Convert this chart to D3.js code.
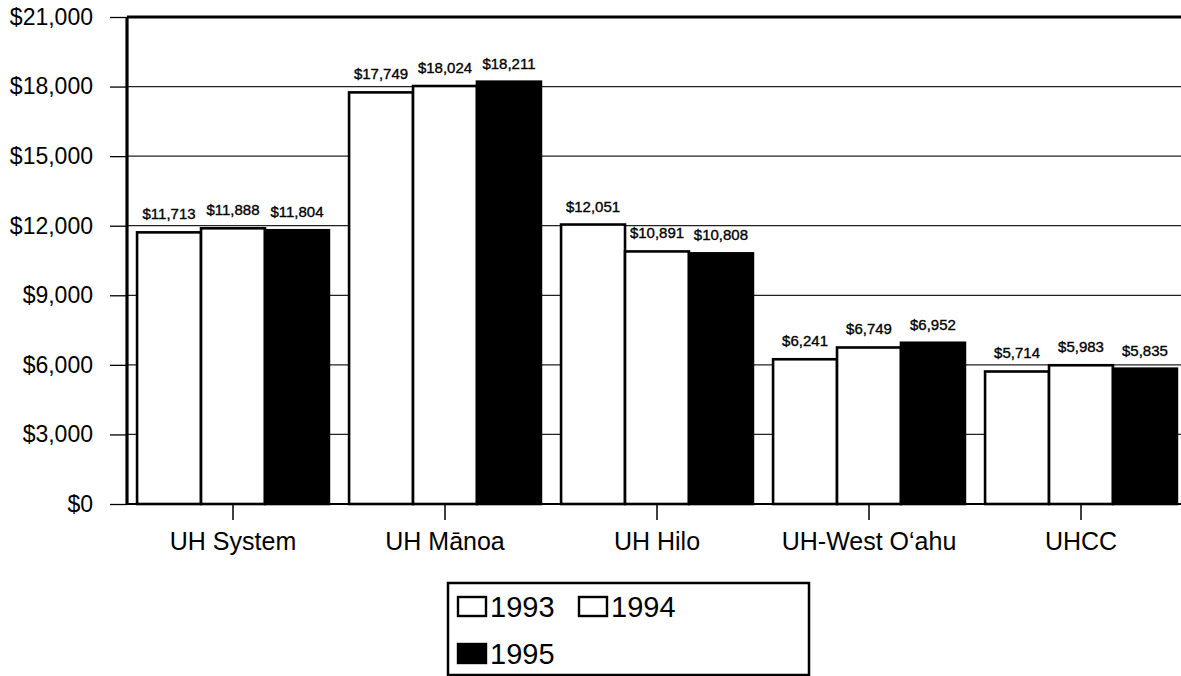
<!DOCTYPE html>
<html>
<head>
<meta charset="utf-8">
<script src="https://cdn.jsdelivr.net/npm/d3@7"></script>
<style>
  html, body { margin: 0; padding: 0; background: #fff; }
  svg { display: block; font-family: "Liberation Sans", Arial, sans-serif; }
</style>
</head>
<body>
<svg id="chart" width="1181" height="676"></svg>
<script>
const categories = ["UH System", "UH M\u0101noa", "UH Hilo", "UH-West O\u2018ahu", "UHCC"];
const years = ["1993", "1994", "1995"];
const values1993 = [11713, 17749, 12051, 6241, 5714];
const values1994 = [11888, 18024, 10891, 6749, 5983];
const values1995 = [11804, 18211, 10808, 6952, 5835];
const yTickValues = [0, 3000, 6000, 9000, 12000, 15000, 18000, 21000];
const seriesFill = ["#ffffff", "#ffffff", "#000000"];

const series = [values1993, values1994, values1995];
const data = categories.map((c, i) => ({
  cat: c,
  vals: years.map((yr, j) => ({ year: yr, value: series[j][i], idx: j }))
}));

const svg = d3.select("#chart");
const mLeft = 127, mTop = 17, mBottom = 504, mRight = 1187;

const x0 = d3.scaleBand().domain(categories).range([mLeft, mRight])
  .paddingInner(0.095).paddingOuter(0.0475);
const x1 = d3.scaleBand().domain(years).range([0, x0.bandwidth()]).padding(0);
const y = d3.scaleLinear().domain([0, 21000]).range([mBottom, mTop]);
const fmt = d => "$" + d3.format(",")(d);

// gridlines
svg.append("g").selectAll("line").data(yTickValues.filter(d => d > 0 && d < 21000)).join("line")
  .attr("x1", mLeft).attr("x2", 1181)
  .attr("y1", d => y(d)).attr("y2", d => y(d))
  .attr("stroke", "#222").attr("stroke-width", 1.3);

// bars
const groups = svg.append("g").selectAll("g").data(data).join("g")
  .attr("transform", d => `translate(${x0(d.cat)},0)`);
groups.selectAll("rect").data(d => d.vals).join("rect")
  .attr("x", d => x1(d.year))
  .attr("y", d => y(d.value))
  .attr("width", x1.bandwidth())
  .attr("height", d => y(0) - y(d.value))
  .attr("fill", d => seriesFill[d.idx])
  .attr("stroke", "#000").attr("stroke-width", 2.6);
groups.selectAll("text").data(d => d.vals).join("text")
  .attr("x", d => x1(d.year) + x1.bandwidth() / 2)
  .attr("y", d => y(d.value) - 13)
  .attr("text-anchor", "middle")
  .attr("font-size", 15)
  .attr("fill", "#000").attr("stroke", "#000").attr("stroke-width", 0.35)
  .text(d => fmt(d.value));

// top border
svg.append("line").attr("x1", mLeft).attr("x2", 1181).attr("y1", y(21000)).attr("y2", y(21000))
  .attr("stroke", "#000").attr("stroke-width", 3);

// y axis
const yAxis = d3.axisLeft(y).tickValues(yTickValues).tickFormat(fmt).tickSize(17).tickPadding(17);
const gy = svg.append("g").attr("transform", `translate(${mLeft},0)`).call(yAxis);
gy.select(".domain").attr("stroke", "#000").attr("stroke-width", 3.2).attr("d", `M0,${mTop}V${mBottom}`);
gy.selectAll(".tick line").attr("stroke", "#000").attr("stroke-width", 1.3);
gy.selectAll(".tick text").attr("font-size", 23).attr("font-family", "Liberation Sans, Arial, sans-serif").attr("fill", "#000");

// x axis
const xAxis = d3.axisBottom(x0).tickSize(16).tickPadding(12);
const gx = svg.append("g").attr("transform", `translate(0,${mBottom})`).call(xAxis);
gx.select(".domain").attr("stroke", "#000").attr("stroke-width", 2.2).attr("d", `M${mLeft},0H1181`);
gx.selectAll(".tick line").attr("stroke", "#000").attr("stroke-width", 1.5);
gx.selectAll(".tick text").attr("font-size", 25).attr("font-family", "Liberation Sans, Arial, sans-serif").attr("fill", "#000");

// legend
const lg = svg.append("g");
lg.append("rect").attr("x", 448).attr("y", 583).attr("width", 361).attr("height", 92)
  .attr("fill", "#fff").attr("stroke", "#000").attr("stroke-width", 2.5);
const legPos = [[458, 617], [579, 617], [458, 664]];
years.forEach((yr, j) => {
  const [lx, ly] = legPos[j];
  lg.append("rect").attr("x", lx).attr("y", ly - 20).attr("width", 28).attr("height", 19)
    .attr("fill", seriesFill[j]).attr("stroke", "#000").attr("stroke-width", 2.4);
  lg.append("text").attr("x", lx + 32).attr("y", ly).attr("font-size", 29).attr("fill", "#000").text(yr);
});
</script>
</body>
</html>
